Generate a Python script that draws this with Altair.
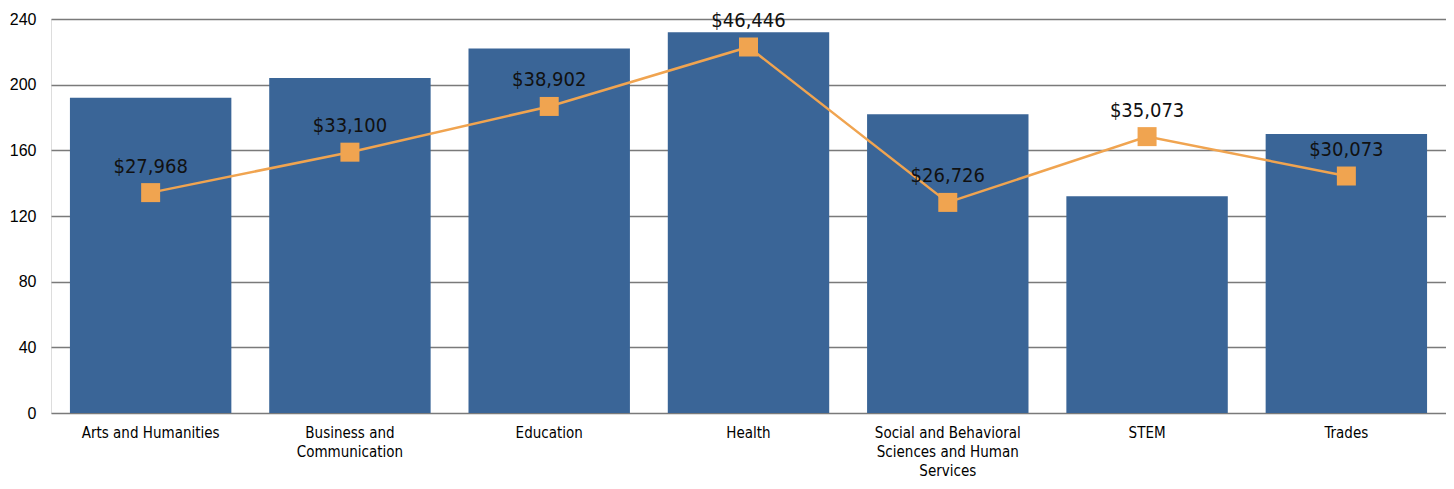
import altair as alt
import pandas as pd

categories = [
    "Arts and Humanities",
    "Business and Communication",
    "Education",
    "Health",
    "Social and Behavioral Sciences and Human Services",
    "STEM",
    "Trades",
]
bar_values = [192, 204, 222, 232, 182, 132, 170]
salaries = [27968, 33100, 38902, 46446, 26726, 35073, 30073]

df = pd.DataFrame({"cat": categories, "count": bar_values, "salary": salaries})
df["salary_label"] = ["$" + f"{s:,}" for s in salaries]

NARROW = "'Liberation Sans Narrow', 'Arial Narrow', 'DejaVu Sans Condensed', 'Noto Sans Condensed', 'Roboto Condensed', Roboto, sans-serif"

label_expr = (
    "datum.label == 'Business and Communication' ? ['Business and', 'Communication'] : "
    "datum.label == 'Social and Behavioral Sciences and Human Services' ? "
    "['Social and Behavioral', 'Sciences and Human', 'Services'] : datum.label"
)

x = alt.X(
    "cat:N",
    sort=categories,
    title=None,
    scale=alt.Scale(paddingInner=0.19, paddingOuter=0.095),
    axis=alt.Axis(
        labelAngle=0,
        labelExpr=label_expr,
        labelFont=NARROW,
        labelFontSize=15,
        labelLineHeight=19,
        labelColor="#000000",
        labelPadding=12,
        ticks=False,
        domain=False,
        grid=False,
        labelLimit=300,
    ),
)

bars = alt.Chart(df).mark_bar(color="#3A6597").encode(
    x=x,
    y=alt.Y(
        "count:Q",
        title=None,
        scale=alt.Scale(domain=[0, 240], nice=False),
        axis=alt.Axis(
            values=[0, 40, 80, 120, 160, 200, 240],
            labelFont="Liberation Sans",
            labelFontSize=16,
            labelColor="#000000",
            labelPadding=15,
            ticks=False,
            domain=False,
            grid=True,
            gridColor="#7a7a7a",
            gridWidth=1.3,
        ),
    ),
)

ys = alt.Y("salary:Q", scale=alt.Scale(domain=[0, 50000], nice=False), axis=None)

line = alt.Chart(df).mark_line(color="#F0A450", strokeWidth=2.5).encode(x=x, y=ys)
pts = alt.Chart(df).mark_point(
    shape="square", size=361, filled=True, color="#F0A450", opacity=1
).encode(x=x, y=ys)
txt = alt.Chart(df).mark_text(
    dy=-26, font=NARROW, fontSize=20, color="#111111"
).encode(x=x, y=ys, text="salary_label:N")

top = alt.layer(line, pts, txt)

chart = (
    alt.layer(bars, top)
    .resolve_scale(y="independent")
    .properties(
        width=1395,
        height=394,
        autosize=alt.AutoSizeParams(type="none"),
        padding={"top": 11, "left": 43, "right": 0, "bottom": 68},
    )
    .configure_view(stroke="#000000", strokeWidth=1.5)
    .configure(background="#ffffff")
)

chart.save("out.html", embed_options={"renderer": "svg", "actions": False})
